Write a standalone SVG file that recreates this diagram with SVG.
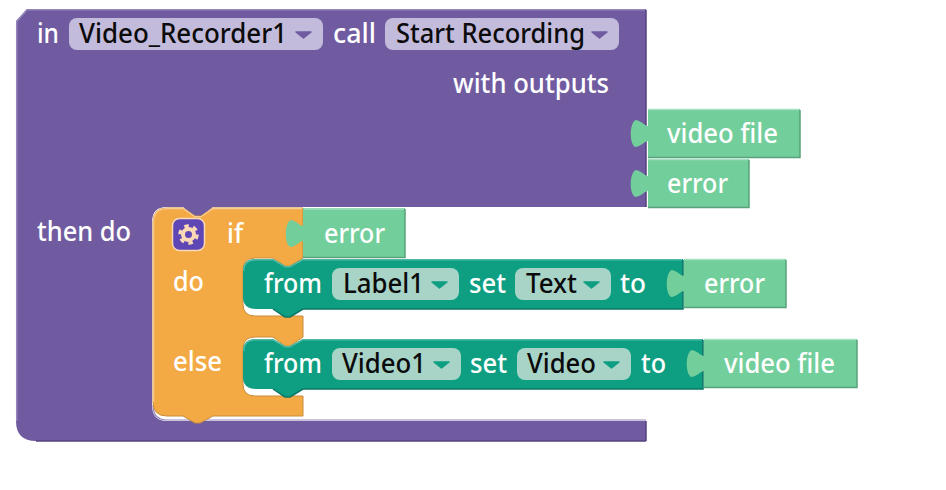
<svg xmlns="http://www.w3.org/2000/svg" width="946" height="490" viewBox="0 0 946 490">
<style>
text{font-family:"Noto Sans","Open Sans",sans-serif;font-size:27px;font-weight:500}
.w{fill:#fff}.k{fill:#0b0b0b}
.g{fill:#72ce9b}.gh{fill:none;stroke:#a5e0c0;stroke-width:1.5}.gs{fill:none;stroke:#58a37b;stroke-width:1.5}
.pp{fill:#c3bbdc}.tp{fill:#a8d4c8}
.pa{fill:#705ba1;stroke:#705ba1;stroke-width:1.5;stroke-linejoin:round}.ta{fill:#0e9f82}
.tr{fill:#0e9f82;stroke:#0e9f82;stroke-width:1.5;stroke-linejoin:round}
</style>
<g id="connectors"></g>
<g id="event-block">
<path fill="#705ba1" d="M16 21L27 9H646V207H213L201 216H195L183 207H167Q152 207 152 222V405Q152 421 167 421H646V441H36Q16 441 16 421Z"/>
<path fill="none" stroke="#9587bb" stroke-width="1.5" d="M16.700 421V21.500L27 9.700H645"/>
<path fill="none" stroke="#54437f" stroke-width="1.5" d="M646 10V207M646 421V441M36 441H646"/>
<path fill="none" stroke="#9587bb" stroke-width="1.200" d="M153 405Q153 420 167 420H646"/>
<text class="w" x="37" y="43" textLength="22" lengthAdjust="spacingAndGlyphs">in</text>
<rect class="pp" x="69" y="18" width="254" height="32" rx="8"/>
<text class="k" x="79" y="43" textLength="208" lengthAdjust="spacingAndGlyphs">Video_Recorder1</text>
<path class="pa" d="M296 32H311L303.500 38Z"/>
<text class="w" x="333" y="43" textLength="43" lengthAdjust="spacingAndGlyphs">call</text>
<rect class="pp" x="385" y="18" width="234" height="32" rx="8"/>
<text class="k" x="396" y="43" textLength="189" lengthAdjust="spacingAndGlyphs">Start Recording</text>
<path class="pa" d="M592 32H607L599.500 38Z"/>
<text class="w" x="453" y="93" textLength="156" lengthAdjust="spacingAndGlyphs">with outputs</text>
<text class="w" x="37" y="241" textLength="94" lengthAdjust="spacingAndGlyphs">then do</text>
</g>
<g id="output-video-file">
<path class="g" d="M648 109H800V157H648V141C645 141 643 145 636 147C629 146 629 122 636 120C643 122 645 126 648 126Z"/>
<path class="gh" d="M648.500 109.500H799"/><path class="gs" d="M800 110V157.500H648"/>
<text class="w" x="667" y="143" textLength="111" lengthAdjust="spacingAndGlyphs">video file</text>
</g>
<g id="output-error">
<path class="g" d="M648 159H749V207H648V191C645 191 643 195 636 197C629 196 629 172 636 170C643 172 645 176 648 176Z"/>
<path class="gh" d="M648.500 159.500H748"/><path class="gs" d="M749 160V207.500H648"/>
<text class="w" x="667" y="193" textLength="61" lengthAdjust="spacingAndGlyphs">error</text>
</g>
<g id="if-block">
<path fill="#f3aa45" stroke="#c98c3a" stroke-width="1" d="M153 222Q153 208 167 208H183L195 216H201L213 208H303V258L290 266H285L273 258H255Q243 258 243 270V304Q243 316 255 316H303V337L290 346H285L273 337H255Q243 337 243 349V384Q243 396 255 396H303V416H213L200 423H195L183 416H167Q153 416 153 402Z"/>
<path fill="none" stroke="#f8cd92" stroke-width="1.200" d="M153.700 402V222Q153.700 208.700 167 208.700H183L195 216.700H201L213 208.700H302"/>
<rect x="172.500" y="218.500" width="32" height="32" rx="7" fill="#5e46b4" stroke="#f9d9b6" stroke-width="1.500"/>
<circle cx="188.500" cy="234.500" r="8.500" fill="none" stroke="#f9d9b6" stroke-width="3.500" stroke-dasharray="4.500 4.400"/>
<circle cx="188.500" cy="234.500" r="5.500" fill="none" stroke="#f9d9b6" stroke-width="4"/>
<text class="w" x="227" y="243" textLength="16" lengthAdjust="spacingAndGlyphs">if</text>
<text class="w" x="173" y="291" textLength="31" lengthAdjust="spacingAndGlyphs">do</text>
<text class="w" x="173" y="371" textLength="49" lengthAdjust="spacingAndGlyphs">else</text>
</g>
<g id="if-error">
<path class="g" d="M303 208H405V257H303V241C300 241 298 245 291 247C284 246 284 222 291 220C298 222 300 226 303 226Z"/>
<path class="gh" d="M303.500 209H404"/><path class="gs" d="M405 209V257.500H303"/>
<text class="w" x="324" y="243" textLength="61" lengthAdjust="spacingAndGlyphs">error</text>
</g>
<g id="set-label">
<path class="ta" d="M243 271Q243 259 256 259H273L285 266H290L303 259H683V309H303L290 317H285L273 309H256Q243 309 243 297Z"/>
<path fill="none" stroke="#4fb9a3" stroke-width="1.500" d="M243.700 271Q243.700 259.700 256 259.700H273L285 266.700H290L303 259.700H682"/>
<path fill="none" stroke="#0b7562" stroke-width="1.500" d="M683 260V309H303L290 317H285L273 309"/>
<text class="w" x="264" y="293" textLength="58" lengthAdjust="spacingAndGlyphs">from</text>
<rect class="tp" x="332" y="268" width="127" height="32" rx="8"/>
<text class="k" x="343" y="293" textLength="81" lengthAdjust="spacingAndGlyphs">Label1</text>
<path class="tr" d="M432 282H447L439.500 288Z"/>
<text class="w" x="469" y="293" textLength="37" lengthAdjust="spacingAndGlyphs">set</text>
<rect class="tp" x="515" y="268" width="96" height="32" rx="8"/>
<text class="k" x="526" y="293" textLength="51" lengthAdjust="spacingAndGlyphs">Text</text>
<path class="tr" d="M584 282H599L591.500 288Z"/>
<text class="w" x="620" y="293" textLength="26" lengthAdjust="spacingAndGlyphs">to</text>
</g>
<g id="label-error">
<path class="g" d="M684 259H786V307H684V291C681 291 679 295 672 297C665 296 665 272 672 270C679 272 681 276 684 276Z"/>
<path class="gh" d="M684.500 259.500H785"/><path class="gs" d="M786 260V307.500H684"/>
<text class="w" x="704" y="293" textLength="61" lengthAdjust="spacingAndGlyphs">error</text>
</g>
<g id="set-video">
<path class="ta" d="M243 351Q243 339 256 339H273L285 346H290L303 339H703V389H303L290 397H285L273 389H256Q243 389 243 377Z"/>
<path fill="none" stroke="#4fb9a3" stroke-width="1.500" d="M243.700 351Q243.700 339.700 256 339.700H273L285 346.700H290L303 339.700H702"/>
<path fill="none" stroke="#0b7562" stroke-width="1.500" d="M703 340V389H303L290 397H285L273 389"/>
<text class="w" x="264" y="373" textLength="58" lengthAdjust="spacingAndGlyphs">from</text>
<rect class="tp" x="332" y="348" width="129" height="32" rx="8"/>
<text class="k" x="342" y="373" textLength="84" lengthAdjust="spacingAndGlyphs">Video1</text>
<path class="tr" d="M434 362H449L441.500 368Z"/>
<text class="w" x="470" y="373" textLength="37" lengthAdjust="spacingAndGlyphs">set</text>
<rect class="tp" x="517" y="348" width="114" height="32" rx="8"/>
<text class="k" x="527" y="373" textLength="69" lengthAdjust="spacingAndGlyphs">Video</text>
<path class="tr" d="M604 362H619L611.500 368Z"/>
<text class="w" x="641" y="373" textLength="25" lengthAdjust="spacingAndGlyphs">to</text>
</g>
<g id="video-file-value">
<path class="g" d="M704 339H857V387H704V371C701 371 699 375 692 377C685 376 685 352 692 350C699 352 701 356 704 356Z"/>
<path class="gh" d="M704.500 339.500H856"/><path class="gs" d="M857 340V387.500H704"/>
<text class="w" x="724" y="373" textLength="111" lengthAdjust="spacingAndGlyphs">video file</text>
</g>
</svg>
